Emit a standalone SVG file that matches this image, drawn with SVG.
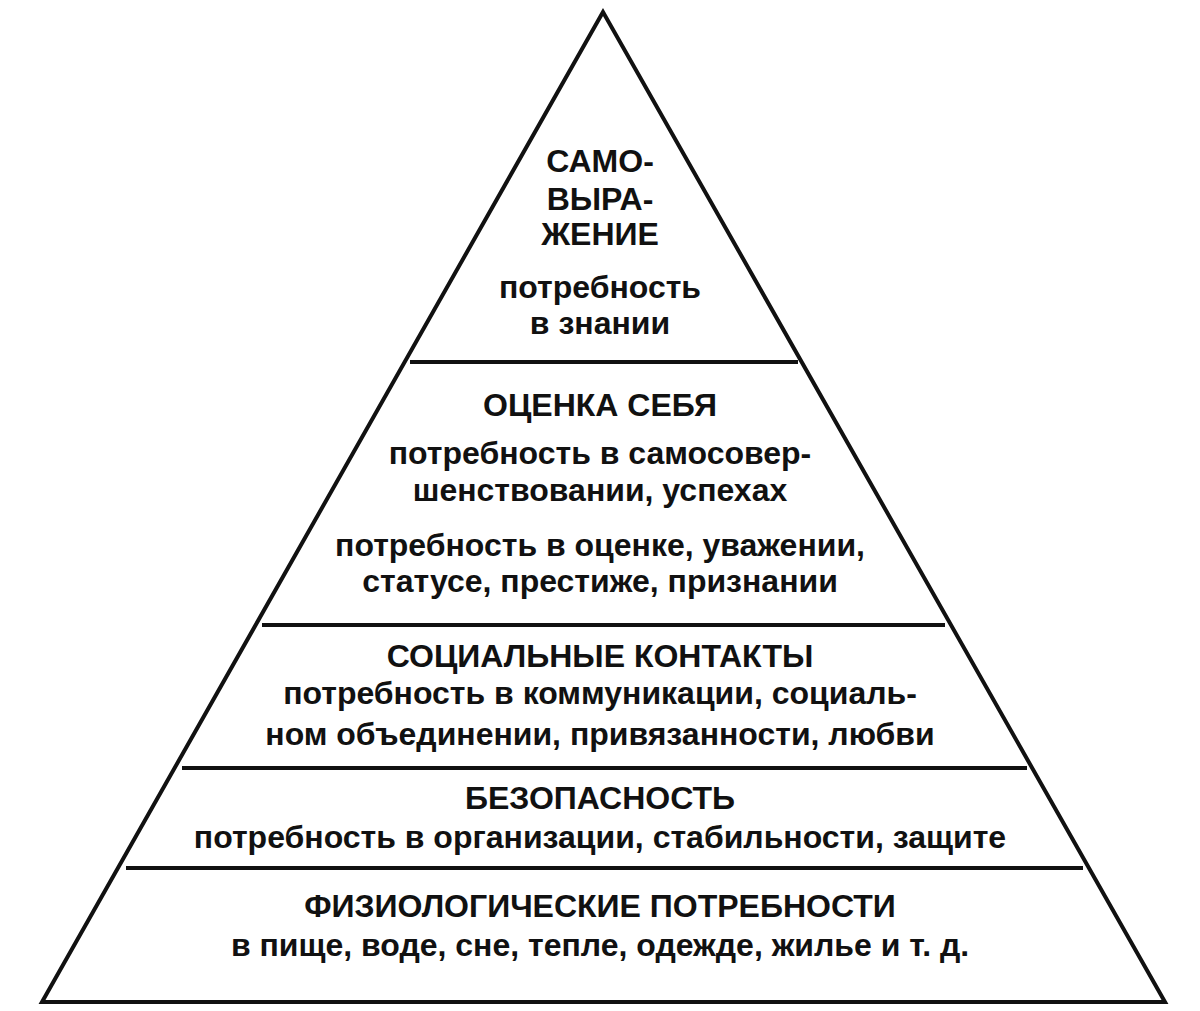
<svg xmlns="http://www.w3.org/2000/svg" width="1200" height="1011" viewBox="0 0 1200 1011">
<style>
.t{font-family:"Liberation Sans",Arial,sans-serif;font-weight:bold;font-size:32px;text-anchor:middle;fill:#111}
.l{stroke:#111;stroke-width:4;fill:none}
</style>
<rect width="1200" height="1011" fill="#fff"/>
<g id="pyramid">
<polygon class="l" points="603,12 42,1002 1165,1002"/>
</g>
<g id="connectors">
<line class="l" x1="410" y1="362" x2="798" y2="362"/>
<line class="l" x1="262" y1="625" x2="945" y2="625"/>
<line class="l" x1="182" y1="768" x2="1027" y2="768"/>
<line class="l" x1="126" y1="868" x2="1083" y2="868"/>
</g>
<g id="n1" class="t">
<text x="600" y="172">САМО-</text>
<text x="600" y="210">ВЫРА-</text>
<text x="600" y="245">ЖЕНИЕ</text>
<text x="600" y="298">потребность</text>
<text x="600" y="334">в знании</text>
</g>
<g id="n2" class="t">
<text x="600" y="416">ОЦЕНКА СЕБЯ</text>
<text x="600" y="464">потребность в самосовер-</text>
<text x="600" y="501">шенствовании, успехах</text>
<text x="600" y="556">потребность в оценке, уважении,</text>
<text x="600" y="592">статусе, престиже, признании</text>
</g>
<g id="n3" class="t">
<text x="600" y="667">СОЦИАЛЬНЫЕ КОНТАКТЫ</text>
<text x="600" y="704">потребность в коммуникации, социаль-</text>
<text x="600" y="745">ном объединении, привязанности, любви</text>
</g>
<g id="n4" class="t">
<text x="600" y="809">БЕЗОПАСНОСТЬ</text>
<text x="600" y="848">потребность в организации, стабильности, защите</text>
</g>
<g id="n5" class="t">
<text x="600" y="917">ФИЗИОЛОГИЧЕСКИЕ ПОТРЕБНОСТИ</text>
<text x="600" y="956">в пище, воде, сне, тепле, одежде, жилье и т. д.</text>
</g>
</svg>
